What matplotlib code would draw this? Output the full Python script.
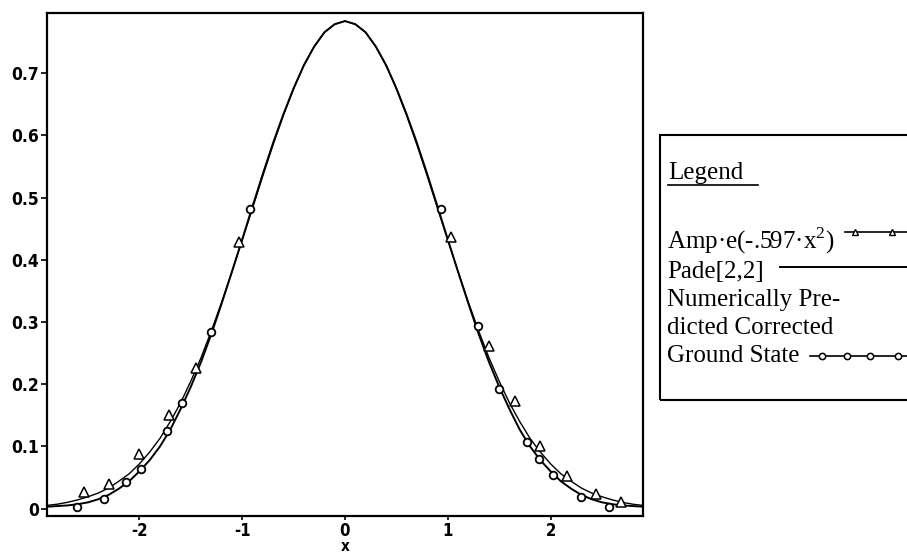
import numpy as np
import matplotlib
matplotlib.use("Agg")
import matplotlib.pyplot as plt
from matplotlib.lines import Line2D
from matplotlib.patches import Rectangle

plt.rcParams['mathtext.fontset'] = 'custom'
plt.rcParams['mathtext.rm'] = 'Liberation Serif'

# ---- data ----
x_grid = np.round(np.linspace(-2.9, 2.9, 59), 1)
pade_y = [0.003, 0.004, 0.005, 0.007, 0.010, 0.015, 0.022, 0.032, 0.044, 0.060,
          0.078, 0.100, 0.127, 0.160, 0.196, 0.236, 0.281, 0.330, 0.381, 0.433,
          0.486, 0.538, 0.588, 0.634, 0.676, 0.713, 0.743, 0.766, 0.779, 0.784,
          0.779, 0.766, 0.743, 0.713, 0.676, 0.634, 0.588, 0.538, 0.486, 0.433,
          0.381, 0.330, 0.281, 0.236, 0.196, 0.160, 0.127, 0.100, 0.078, 0.060,
          0.044, 0.032, 0.022, 0.015, 0.010, 0.007, 0.005, 0.004, 0.003]
gauss_y = [0.005, 0.007, 0.010, 0.014, 0.019, 0.025, 0.033, 0.044, 0.056, 0.072,
           0.091, 0.113, 0.140, 0.170, 0.205, 0.243, 0.286, 0.332, 0.381, 0.432,
           0.483, 0.535, 0.585, 0.632, 0.675, 0.713, 0.743, 0.766, 0.779, 0.784,
           0.779, 0.766, 0.743, 0.713, 0.675, 0.632, 0.585, 0.535, 0.483, 0.432,
           0.381, 0.332, 0.286, 0.243, 0.205, 0.170, 0.140, 0.113, 0.091, 0.072,
           0.056, 0.044, 0.033, 0.025, 0.019, 0.014, 0.010, 0.007, 0.005]
tri_x = [-2.54, -2.30, -2.00, -1.71, -1.45, -1.03, 1.03, 1.40, 1.65, 1.90, 2.16, 2.44, 2.69]
tri_y = [0.027, 0.040, 0.087, 0.151, 0.226, 0.428, 0.437, 0.262, 0.173, 0.101, 0.053, 0.024, 0.011]
circ_x = [-2.61, -2.35, -2.13, -1.99, -1.73, -1.59, -1.30, -0.92,
          0.93, 1.29, 1.50, 1.77, 1.89, 2.02, 2.30, 2.57]
circ_y = [0.003, 0.016, 0.042, 0.064, 0.125, 0.170, 0.284, 0.481,
          0.482, 0.293, 0.193, 0.107, 0.080, 0.054, 0.019, 0.003]
y_ticks = [0, 0.1, 0.2, 0.3, 0.4, 0.5, 0.6, 0.7]
y_labels = ["0", "0.1", "0.2", "0.3", "0.4", "0.5", "0.6", "0.7"]
x_ticks = [-2, -1, 0, 1, 2]
x_labels = ["-2", "-1", "0", "1", "2"]
legend_title = "Legend"
legend_texts = ["Amp·e(-.597·x$^{2}$)", "Pade[2,2]", "Numerically Pre-",
                "dicted Corrected", "Ground State"]

W, H = 907, 558
fig = plt.figure(figsize=(W / 100, H / 100), dpi=100)
ax = fig.add_axes([47 / W, 1 - 516 / H, (643 - 47) / W, (516 - 13) / H])

tick_font = dict(family=['DejaVu Sans'], weight='bold', stretch='condensed', size=12.5)
xtick_font = dict(family=['DejaVu Sans'], weight='bold', stretch='condensed', size=12)

ax.plot(x_grid, gauss_y, color='black', lw=1.0)
ax.plot(x_grid, pade_y, color='black', lw=1.4)
ax.plot(tri_x, tri_y, ls='none', marker='^', ms=6.5, mfc='white', mec='black', mew=1.1)
ax.plot(circ_x, circ_y, ls='none', marker='o', ms=5.5, mfc='white', mec='black', mew=1.3)

ax.set_xlim(-2.9, 2.9)
ax.set_ylim(-0.012, 0.797)
ax.set_yticks(y_ticks)
ax.set_yticklabels(y_labels, fontdict=tick_font)
ax.set_xticks(x_ticks)
ax.set_xticklabels(x_labels, fontdict=xtick_font)
ax.tick_params(axis='both', direction='out', length=4, width=1.2, pad=2)
ax.tick_params(axis='x', length=3, pad=1)
for s in ax.spines.values():
    s.set_linewidth(1.6)

# "x" axis label directly below the 0 tick
ax.text(0, -(551 - 516) / 503, "x", transform=ax.get_xaxis_transform(), ha='center',
        va='baseline',
        fontdict=dict(family=['DejaVu Sans'], weight='bold', stretch='condensed', size=11))

# ---- legend box drawn in figure pixels ----
def fx(px):
    return px / W

def fy(py):
    return 1 - py / H

fig.patches.append(Rectangle((fx(660), fy(400)), fx(920) - fx(660), fy(135) - fy(400),
                             transform=fig.transFigure, fill=False, lw=1.5,
                             edgecolor='black', clip_on=False))
serif = dict(family=['Liberation Serif', 'DejaVu Serif'], size=18)
fig.text(fx(668), fy(179), legend_title, ha='left', va='baseline', **serif)
fig.add_artist(Line2D([fx(668), fx(758)], [fy(185), fy(185)], transform=fig.transFigure,
                      color='black', lw=1.2))
baselines = [249, 278, 306, 334, 362]
for t, b in zip(legend_texts, baselines):
    fig.text(fx(667), fy(b), t, ha='left', va='baseline', **serif)

# legend samples
fig.add_artist(Line2D([fx(845), fx(907)], [fy(232), fy(232)], transform=fig.transFigure,
                      color='black', lw=1.2))
fig.add_artist(Line2D([fx(855), fx(892)], [fy(232), fy(232)], transform=fig.transFigure,
                      ls='none', marker='^', ms=5, mfc='white', mec='black', mew=1.0))
fig.add_artist(Line2D([fx(780), fx(907)], [fy(267), fy(267)], transform=fig.transFigure,
                      color='black', lw=1.4))
fig.add_artist(Line2D([fx(810), fx(907)], [fy(356), fy(356)], transform=fig.transFigure,
                      color='black', lw=1.2))
fig.add_artist(Line2D([fx(822), fx(847), fx(870), fx(898)], [fy(356)] * 4,
                      transform=fig.transFigure, ls='none', marker='o', ms=4.5,
                      mfc='white', mec='black', mew=1.1))

fig.savefig("out.png", dpi=100)
